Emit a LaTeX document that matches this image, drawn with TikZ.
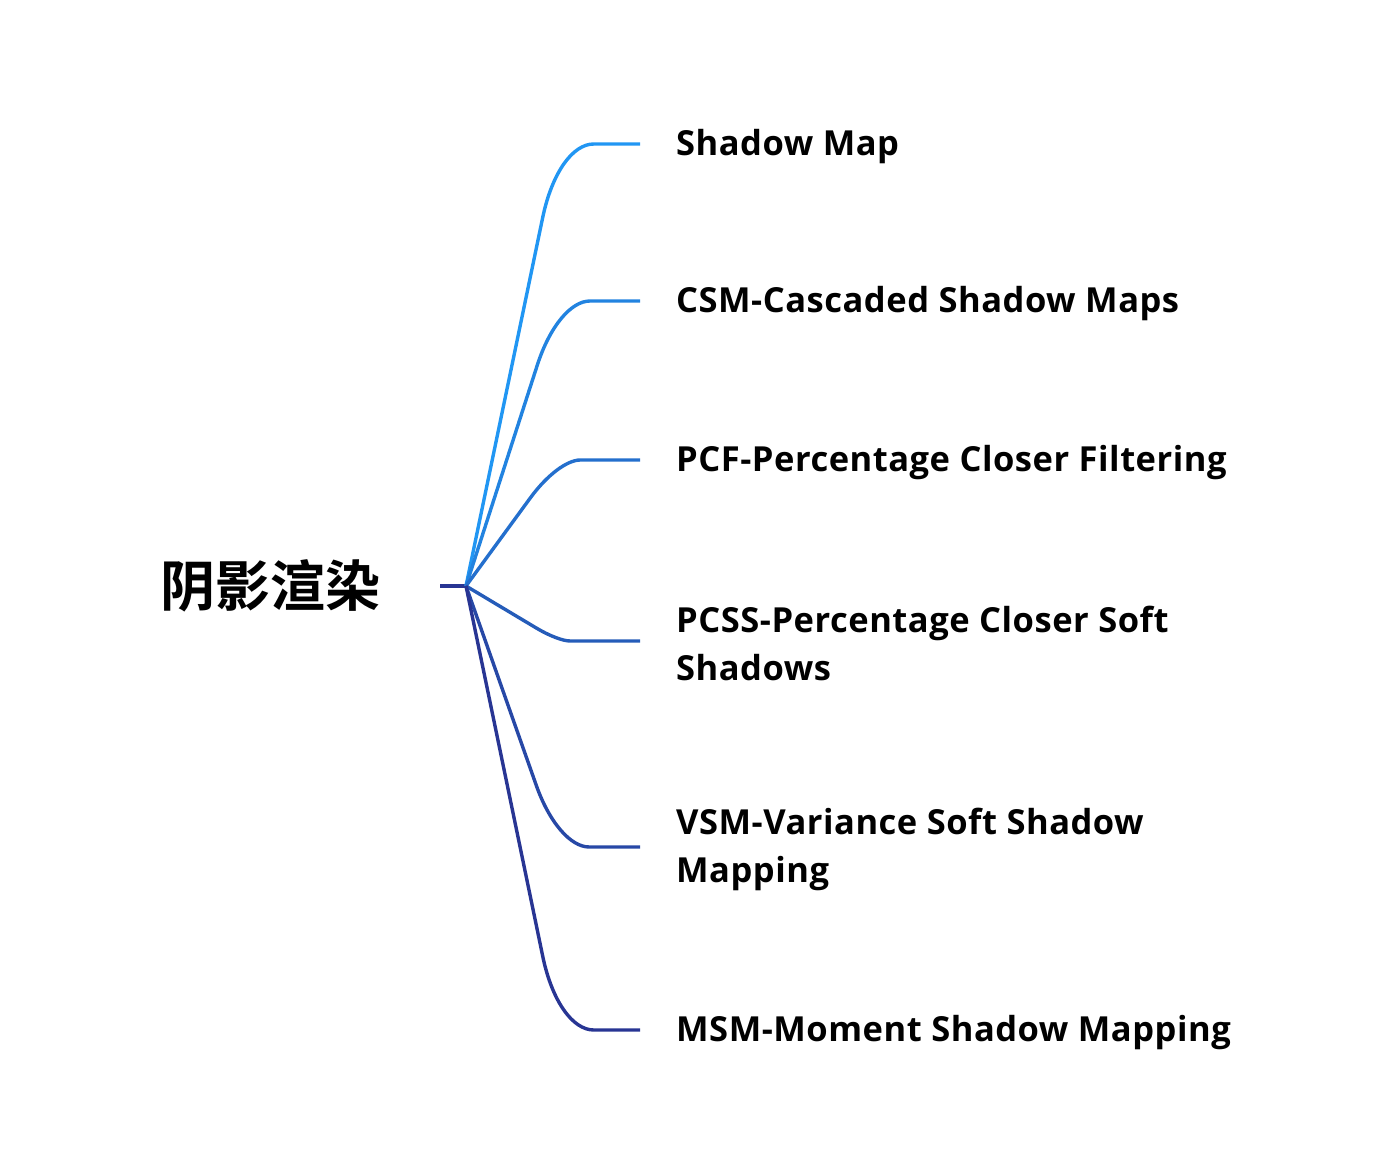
\documentclass[tikz,border=0pt]{standalone}
\usepackage{fontspec}
\usetikzlibrary{calc}
\setmainfont{Open Sans}[LetterSpace=1.5]
\newfontfamily\cjk{Noto Sans CJK SC}[BoldFont={Noto Sans CJK SC Bold}]
\definecolor{c0}{HTML}{2196F3}
\definecolor{c5}{HTML}{283593}
\colorlet{c1}{c0!80!c5}
\colorlet{c2}{c0!60!c5}
\colorlet{c3}{c0!40!c5}
\colorlet{c4}{c0!20!c5}
\begin{document}
\begin{tikzpicture}[x=1pt,y=-1pt,
  conn/.style={line width=3.4pt},
  leaf/.style={anchor=west,inner sep=0pt,font=\bfseries\fontsize{34.5}{48}\selectfont,align=left},
  rootnode/.style={inner sep=0pt,font=\cjk\bfseries\fontsize{55}{60}\selectfont}]
\useasboundingbox (0,0) rectangle (1376,1174);
\node[rootnode] (root) at (270,586) {阴影渲染};
\coordinate (s) at (440,586);
\coordinate (o) at (466,586);
\draw[conn,c5] (s) -- (o);
\node[leaf] (n0) at (676,147) {Shadow Map};
\node[leaf] (n1) at (676,304) {CSM-Cascaded Shadow Maps};
\node[leaf] (n2) at (676,463) {PCF-Percentage Closer Filtering};
\node[leaf] (n3) at (676,643) {PCSS-Percentage Closer Soft\\Shadows};
\node[leaf] (n4) at (676,849) {VSM-Variance Soft Shadow\\Mapping};
\node[leaf] (n5) at (676,1033) {MSM-Moment Shadow Mapping};
\foreach \i/\y in {0/144,1/301,2/460,3/641,4/847,5/1030}{
  \coordinate (k\i) at (558,\y);
  \coordinate (e\i) at (640,\y);
  \pgfmathsetmacro\dtwo{44*tan(atan(abs(\y-586)/92)/2)}
  \pgfmathsetmacro\done{2.1*\dtwo}
  \coordinate (a\i) at ($(k\i)!\done pt!(o)$);
  \coordinate (b\i) at ($(k\i)!\dtwo pt!(e\i)$);
  \draw[conn,c\i] (o) -- (a\i)
     .. controls ($(a\i)!0.6!(k\i)$) and ($(b\i)!0.6!(k\i)$) .. (b\i) -- (e\i);
}
\end{tikzpicture}
\end{document}
